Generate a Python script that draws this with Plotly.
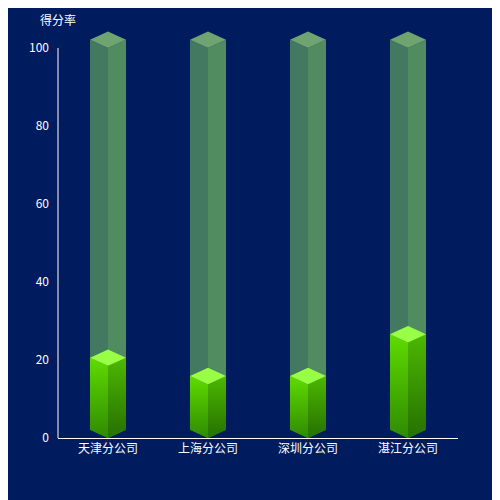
import plotly.graph_objects as go

# data
companies = ["天津分公司", "上海分公司", "深圳分公司", "湛江分公司"]
scores = [18.5, 13.8, 13.8, 24.5]
full_score = 100
y_ticks = [0, 20, 40, 60, 80, 100]

w = 0.18   # half width of a bar, in category units
d = 2.1    # depth of the iso top, in data units

fig = go.Figure()


def face(x, y, color=None, grad=None):
    tr = go.Scatter(x=x, y=y, mode="lines", fill="toself", line=dict(width=0),
                    hoverinfo="skip", showlegend=False)
    if grad:
        tr.fillgradient = dict(type="vertical", colorscale=grad)
    else:
        tr.fillcolor = color
    fig.add_trace(tr)


def bar3d(i, v, left, right, top, grad_l=None, grad_r=None):
    face([i - w, i, i, i - w, i - w], [d, 0, v, v + d, d], left, grad_l)
    face([i, i + w, i + w, i, i], [0, d, v + d, v, 0], right, grad_r)
    face([i - w, i, i + w, i, i - w], [v + d, v, v + d, v + 2 * d, v + d], top)


# background (full score) bars
for i in range(len(companies)):
    bar3d(i, full_score, "#437861", "#508c60", "#6fa470")

# score bars
for i, v in enumerate(scores):
    bar3d(i, v, None, None, "#99ff44",
          grad_l=[[0, "#2f8a00"], [1, "#5fdc00"]],
          grad_r=[[0, "#267000"], [1, "#4cb800"]])

fig.add_shape(type="line", xref="paper", x0=0, x1=0, y0=0, y1=100,
              line=dict(color="white", width=1))

fig.update_layout(
    width=500, height=500,
    paper_bgcolor="#001b5e", plot_bgcolor="#001b5e",
    margin=dict(l=50, r=50, t=22, b=70),
    font=dict(family="Noto Sans CJK SC", color="white", size=12),
    xaxis=dict(range=[-0.5, 3.5], tickvals=list(range(len(companies))), ticktext=companies,
               showgrid=False, zeroline=False, showline=True, linecolor="white",
               ticks="", fixedrange=True),
    yaxis=dict(range=[0, 104.6], tickvals=y_ticks, showgrid=False, zeroline=False,
               showline=False, ticks="", ticklabelstandoff=8),
    annotations=[dict(text="得分率", xref="paper", yref="paper", x=0.0, y=1.0,
                      xanchor="center", yanchor="bottom", showarrow=False,
                      font=dict(size=12, color="white"))],
)

fig.write_html("out.html")
